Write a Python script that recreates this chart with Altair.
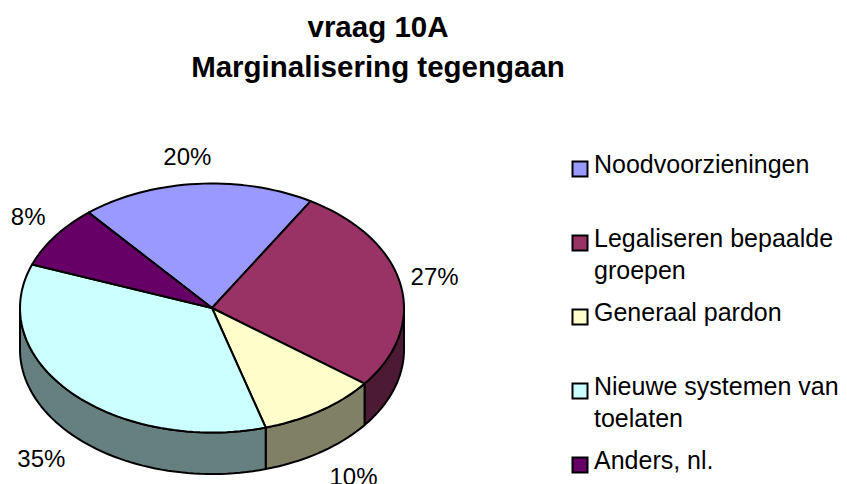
import math
import altair as alt
import pandas as pd

title_lines = ["vraag 10A", "Marginalisering tegengaan"]
categories = ["Noodvoorzieningen", "Legaliseren bepaalde groepen", "Generaal pardon",
              "Nieuwe systemen van toelaten", "Anders, nl."]
legend_text = ["Noodvoorzieningen", "Legaliseren bepaalde\ngroepen", "Generaal pardon",
               "Nieuwe systemen van\ntoelaten", "Anders, nl."]
shares = [19.7, 26.8, 10.1, 35.2, 8.2]
top_colors = ["#9999FF", "#993366", "#FFFFCC", "#CCFFFF", "#660066"]
wall_colors = ["#4D4D80", "#4D1A33", "#808066", "#668080", "#330033"]

# layout, in page pixels
FONT = "Liberation Sans"
PAGE = 8
CANVAS_W, PAD_TOP, PLOT_H, PAD_BOTTOM = 831, 100, 368, 8
CX, CY, RX, RY = 212.0, 308.0, 192.0, 124.5
DEPTH = 41.5 / RY
START = -40.0
LEGEND_FIRST, LEGEND_LAST = 169, 465
LABEL_NUDGE = {"Noodvoorzieningen": (-9.5, -26), "Legaliseren bepaalde groepen": (34, -7),
               "Generaal pardon": (33, 67), "Nieuwe systemen van toelaten": (-30, 67),
               "Anders, nl.": (-27, -18)}


def rim(t):
    r = math.radians(t)
    return math.sin(r), math.cos(r)


def arc(a, b, step=2.0):
    n = max(1, int(math.ceil((b - a) / step)))
    return [a + (b - a) * i / n for i in range(n + 1)]


tops, walls, labels = [], [], []
angle = START
for name, share in zip(categories, shares):
    a, b = angle, angle + share * 3.6
    angle = b
    pts = [(0.0, 0.0)] + [rim(t) for t in arc(a, b)] + [(0.0, 0.0)]
    for i, (x, y) in enumerate(pts):
        tops.append({"slice": name, "x": x, "y": y, "i": i})
    lo, hi = max(a, 90), min(b, 270)
    if hi > lo:
        ts = arc(lo, hi)
        ring = [rim(t) for t in ts] + [(rim(t)[0], rim(t)[1] - DEPTH) for t in reversed(ts)]
        ring.append(ring[0])
        for i, (x, y) in enumerate(ring):
            walls.append({"slice": name, "x": x, "y": y, "i": i})
    mx, my = rim((a + b) / 2)
    nx, ny = LABEL_NUDGE[name]
    labels.append({"x": mx + nx / RX, "y": my - ny / RY, "text": f"{round(share)}%"})

x_scale = alt.Scale(domain=[(PAGE - CX) / RX, (PAGE + CANVAS_W - CX) / RX], nice=False, zero=False)
y_scale = alt.Scale(domain=[(CY - PAGE - PAD_TOP - PLOT_H) / RY, (CY - PAGE - PAD_TOP) / RY], nice=False, zero=False)
X = alt.X("x:Q", scale=x_scale, axis=None)
Y = alt.Y("y:Q", scale=y_scale, axis=None)
outline = dict(stroke="black", strokeWidth=2, strokeJoin="round", clip=False)

wall_layer = alt.Chart(pd.DataFrame(walls)).mark_line(**outline).encode(
    x=X, y=Y, order="i:Q", detail="slice:N",
    fill=alt.Fill("slice:N", scale=alt.Scale(domain=categories, range=wall_colors), legend=None),
)
top_layer = alt.Chart(pd.DataFrame(tops)).mark_line(**outline).encode(
    x=X, y=Y, order="i:Q", detail="slice:N",
    fill=alt.Fill("slice:N", scale=alt.Scale(domain=categories, range=top_colors), legend=None),
)
label_layer = alt.Chart(pd.DataFrame(labels)).mark_text(
    font=FONT, fontSize=24, color="black", baseline="middle", align="center"
).encode(x=X, y=Y, text="text:N")

legend_df = pd.DataFrame({"slice": categories, "text": legend_text, "row": range(len(categories))})
legend_y = alt.Y("row:Q", axis=None, scale=alt.Scale(
    domain=[0, len(categories) - 1],
    range=[LEGEND_FIRST - PAGE - PAD_TOP, LEGEND_LAST - PAGE - PAD_TOP], nice=False, zero=False))
legend_marks = alt.Chart(legend_df).mark_square(size=225, opacity=1, stroke="black", strokeWidth=2).encode(
    x=alt.value(580 - PAGE), y=legend_y,
    fill=alt.Fill("slice:N", scale=alt.Scale(domain=categories, range=top_colors), legend=None),
)
legend_labels = alt.Chart(legend_df).mark_text(
    font=FONT, fontSize=25, color="black", align="left", baseline="alphabetic",
    lineBreak="\n", lineHeight=32, dy=4,
).encode(x=alt.value(594 - PAGE), y=legend_y, text="text:N")

chart = alt.layer(wall_layer, top_layer, label_layer, legend_marks, legend_labels).resolve_scale(
    y="independent", fill="independent"
).properties(
    width=CANVAS_W, height=PLOT_H,
    autosize=alt.AutoSizeParams(type="none"),
    padding={"left": 0, "top": PAD_TOP, "right": 0, "bottom": PAD_BOTTOM},
    background="white",
    title=alt.TitleParams(
        text=title_lines, font=FONT, fontSize=29.5, fontWeight="bold", color="black",
        lineHeight=40, anchor="middle", dx=378 - PAGE - CANVAS_W / 2, offset=25,
    ),
).configure_view(stroke=None)

chart.save("out.html", embed_options={"renderer": "svg", "actions": False})
